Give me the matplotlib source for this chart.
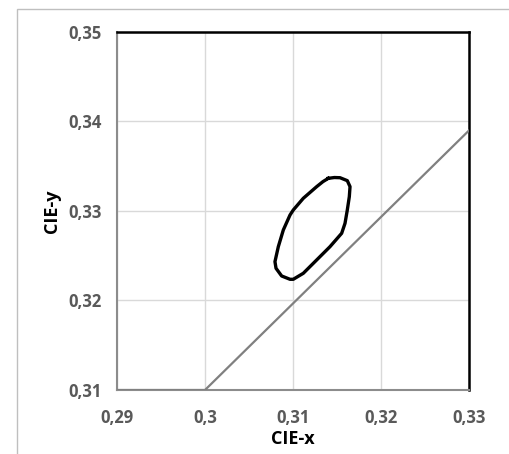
import matplotlib.pyplot as plt
from matplotlib.patches import Rectangle
from matplotlib.ticker import FuncFormatter

plt.rcParams['font.family'] = ['Open Sans', 'DejaVu Sans']

# locus line (gray)
locus_x = [0.29, 0.30, 0.33]
locus_y = [0.31, 0.31, 0.339]

# closed contour (black)
contour_x = [0.31401, 0.31470, 0.31534, 0.31617, 0.31648, 0.31640, 0.31617,
             0.31591, 0.31553, 0.31420, 0.31269, 0.31117, 0.31003, 0.30966,
             0.30871, 0.30807, 0.30795, 0.30833, 0.30890, 0.30966, 0.31003,
             0.31117, 0.31269, 0.31340, 0.31401]
contour_y = [0.33365, 0.33374, 0.33372, 0.33339, 0.33272, 0.33160, 0.33011,
             0.32862, 0.32751, 0.32601, 0.32453, 0.32304, 0.32237, 0.32237,
             0.32274, 0.32360, 0.32434, 0.32601, 0.32788, 0.32955, 0.33011,
             0.33142, 0.33272, 0.33328, 0.33365]

x_ticks = [0.29, 0.30, 0.31, 0.32, 0.33]
y_ticks = [0.31, 0.32, 0.33, 0.34, 0.35]

fig = plt.figure(figsize=(5.09, 4.54), dpi=100)
# chart area border
fig.patches.append(Rectangle((17 / 509, -0.1), 1.2, (454 - 9) / 454 + 0.1,
                             transform=fig.transFigure, fill=False,
                             edgecolor='#bfbfbf', linewidth=1.0))

ax = fig.add_axes([117 / 509, 1 - 390 / 454, 352 / 509, 358 / 454])

ax.plot(locus_x, locus_y, color='#808080', linewidth=1.6, zorder=3)
ax.plot(contour_x, contour_y, color='black', linewidth=2.4, zorder=4,
        solid_joinstyle='round')

ax.set_xlim(0.29, 0.33)
ax.set_ylim(0.31, 0.35)
ax.set_xticks(x_ticks)
ax.set_yticks(y_ticks)

fmt = FuncFormatter(lambda v, p: ('%g' % round(v, 4)).replace('.', ','))
ax.xaxis.set_major_formatter(fmt)
ax.yaxis.set_major_formatter(fmt)

ax.grid(True, color='#d9d9d9', linewidth=1.0)
ax.set_axisbelow(True)
ax.tick_params(length=0, labelsize=12, labelcolor='#595959')
ax.tick_params(axis='x', pad=14)
ax.tick_params(axis='y', pad=11)
for lab in ax.get_xticklabels() + ax.get_yticklabels():
    lab.set_fontweight('bold')

ax.spines['top'].set_color('black')
ax.spines['right'].set_color('black')
ax.spines['top'].set_linewidth(1.8)
ax.spines['right'].set_linewidth(1.8)
ax.spines['left'].set_color('#8c8c8c')
ax.spines['bottom'].set_color('#8c8c8c')
ax.spines['left'].set_linewidth(1.5)
ax.spines['bottom'].set_linewidth(1.5)

ax.set_xlabel('CIE-x', fontsize=13, fontweight='bold', labelpad=2)
ax.set_ylabel('CIE-y', fontsize=13, fontweight='bold', labelpad=5)

fig.savefig('out.png', dpi=100)
